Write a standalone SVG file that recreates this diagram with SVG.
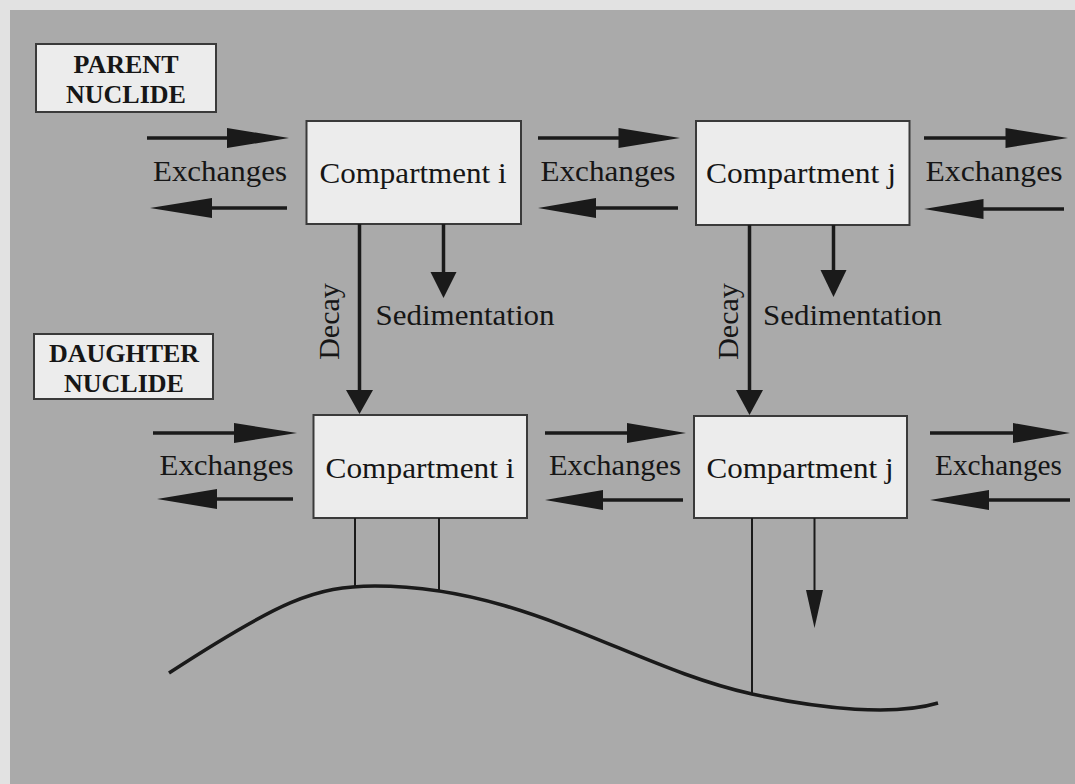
<svg xmlns="http://www.w3.org/2000/svg" width="1075" height="784" viewBox="0 0 1075 784">
<style>
.box{fill:#ececec;stroke:#3a3a3a;stroke-width:2}
.t{font-family:"Liberation Serif","Times New Roman",serif;font-size:29px;fill:#161616}
.b{font-family:"Liberation Serif","Times New Roman",serif;font-size:26px;font-weight:bold;fill:#161616;text-anchor:middle}
.m{text-anchor:middle}
.sh{stroke:#1a1a1a;stroke-width:3.5;fill:none}
.thin{stroke:#1a1a1a;stroke-width:2;fill:none}
.hd{fill:#1a1a1a}
</style>
<rect x="0" y="0" width="1075" height="784" fill="#e2e2e2"/>
<rect x="10" y="10" width="1065" height="774" fill="#aaaaaa"/>

<g id="label-parent">
<rect class="box" x="36" y="44" width="180" height="68"/>
<text class="b" x="126" y="73">PARENT</text>
<text class="b" x="126" y="103">NUCLIDE</text>
</g>
<g id="label-daughter">
<rect class="box" x="34" y="334" width="179" height="65"/>
<text class="b" x="124" y="362">DAUGHTER</text>
<text class="b" x="124" y="392">NUCLIDE</text>
</g>

<g id="parent-compartment-i">
<rect class="box" x="306.5" y="121" width="214.5" height="103"/>
<text class="t m" x="413" y="183" textLength="187" lengthAdjust="spacingAndGlyphs">Compartment i</text>
</g>
<g id="parent-compartment-j">
<rect class="box" x="696" y="121" width="213.5" height="104"/>
<text class="t m" x="801" y="183" textLength="190" lengthAdjust="spacingAndGlyphs">Compartment j</text>
</g>
<g id="daughter-compartment-i">
<rect class="box" x="313.5" y="415" width="213.5" height="103"/>
<text class="t m" x="420" y="478" textLength="189" lengthAdjust="spacingAndGlyphs">Compartment i</text>
</g>
<g id="daughter-compartment-j">
<rect class="box" x="694" y="416" width="213" height="102"/>
<text class="t m" x="800" y="478" textLength="187" lengthAdjust="spacingAndGlyphs">Compartment j</text>
</g>

<g id="connectors">
<line class="sh" x1="147" y1="138" x2="230" y2="138"/><polygon class="hd" points="227,128 289,138 227,148"/>
<line class="sh" x1="287" y1="208" x2="208" y2="208"/><polygon class="hd" points="212,198 150,208 212,218"/>
<line class="sh" x1="538" y1="138" x2="621" y2="138"/><polygon class="hd" points="618.5,128 680,138 618.5,148"/>
<line class="sh" x1="678" y1="208" x2="593" y2="208"/><polygon class="hd" points="596,198 538,208 596,218"/>
<line class="sh" x1="924" y1="138" x2="1008" y2="138"/><polygon class="hd" points="1005.5,128 1068,138 1005.5,148"/>
<line class="sh" x1="1064" y1="209" x2="980" y2="209"/><polygon class="hd" points="983.5,199 924,209 983.5,219"/>
<line class="sh" x1="153" y1="433" x2="237" y2="433"/><polygon class="hd" points="234,423 297,433 234,443"/>
<line class="sh" x1="293" y1="499" x2="214" y2="499"/><polygon class="hd" points="217,489 157,499 217,509"/>
<line class="sh" x1="545" y1="433" x2="630" y2="433"/><polygon class="hd" points="627,423 686,433 627,443"/>
<line class="sh" x1="683" y1="500" x2="600" y2="500"/><polygon class="hd" points="603,490 545,500 603,510"/>
<line class="sh" x1="930" y1="433" x2="1016" y2="433"/><polygon class="hd" points="1013,423 1070,433 1013,443"/>
<line class="sh" x1="1070" y1="500" x2="986" y2="500"/><polygon class="hd" points="989,490 930,500 989,510"/>
<line class="sh" x1="359.5" y1="224" x2="359.5" y2="392"/><polygon class="hd" points="346,390 373,390 359.5,414"/>
<line class="sh" x1="749.5" y1="225" x2="749.5" y2="392"/><polygon class="hd" points="736,390 763,390 749.5,415"/>
<line class="sh" x1="443.5" y1="224" x2="443.5" y2="274"/><polygon class="hd" points="430.5,272 456.5,272 443.5,298"/>
<line class="sh" x1="833.5" y1="225" x2="833.5" y2="272"/><polygon class="hd" points="820.5,270 846.5,270 833.5,297"/>
<line class="thin" x1="355" y1="518" x2="355" y2="587"/>
<line class="thin" x1="439" y1="518" x2="439" y2="592"/>
<line class="thin" x1="752" y1="518" x2="752" y2="694"/>
<line class="thin" x1="814.5" y1="518" x2="814.5" y2="592"/><polygon class="hd" points="806,590 823,590 814.5,628"/>
<path d="M169,673 C279,601.5 315,586 375,586 C525,586 632,667.6 752,694 C822,709.4 895,716 938,703" fill="none" stroke="#1a1a1a" stroke-width="3.5"/>
</g>

<text class="t m" x="220" y="181" textLength="134" lengthAdjust="spacingAndGlyphs">Exchanges</text>
<text class="t m" x="608" y="181" textLength="135" lengthAdjust="spacingAndGlyphs">Exchanges</text>
<text class="t m" x="994" y="181" textLength="137" lengthAdjust="spacingAndGlyphs">Exchanges</text>
<text class="t m" x="226.5" y="475" textLength="134" lengthAdjust="spacingAndGlyphs">Exchanges</text>
<text class="t m" x="615" y="475" textLength="132" lengthAdjust="spacingAndGlyphs">Exchanges</text>
<text class="t m" x="998.5" y="475" textLength="127" lengthAdjust="spacingAndGlyphs">Exchanges</text>
<text class="t" x="375.5" y="325" textLength="179" lengthAdjust="spacingAndGlyphs">Sedimentation</text>
<text class="t" x="763" y="325" textLength="179" lengthAdjust="spacingAndGlyphs">Sedimentation</text>
<text class="t m" x="339" y="321.5" transform="rotate(-90 339 321.5)" style="font-size:30px">Decay</text>
<text class="t m" x="738" y="321.5" transform="rotate(-90 738 321.5)" style="font-size:30px">Decay</text>
</svg>
